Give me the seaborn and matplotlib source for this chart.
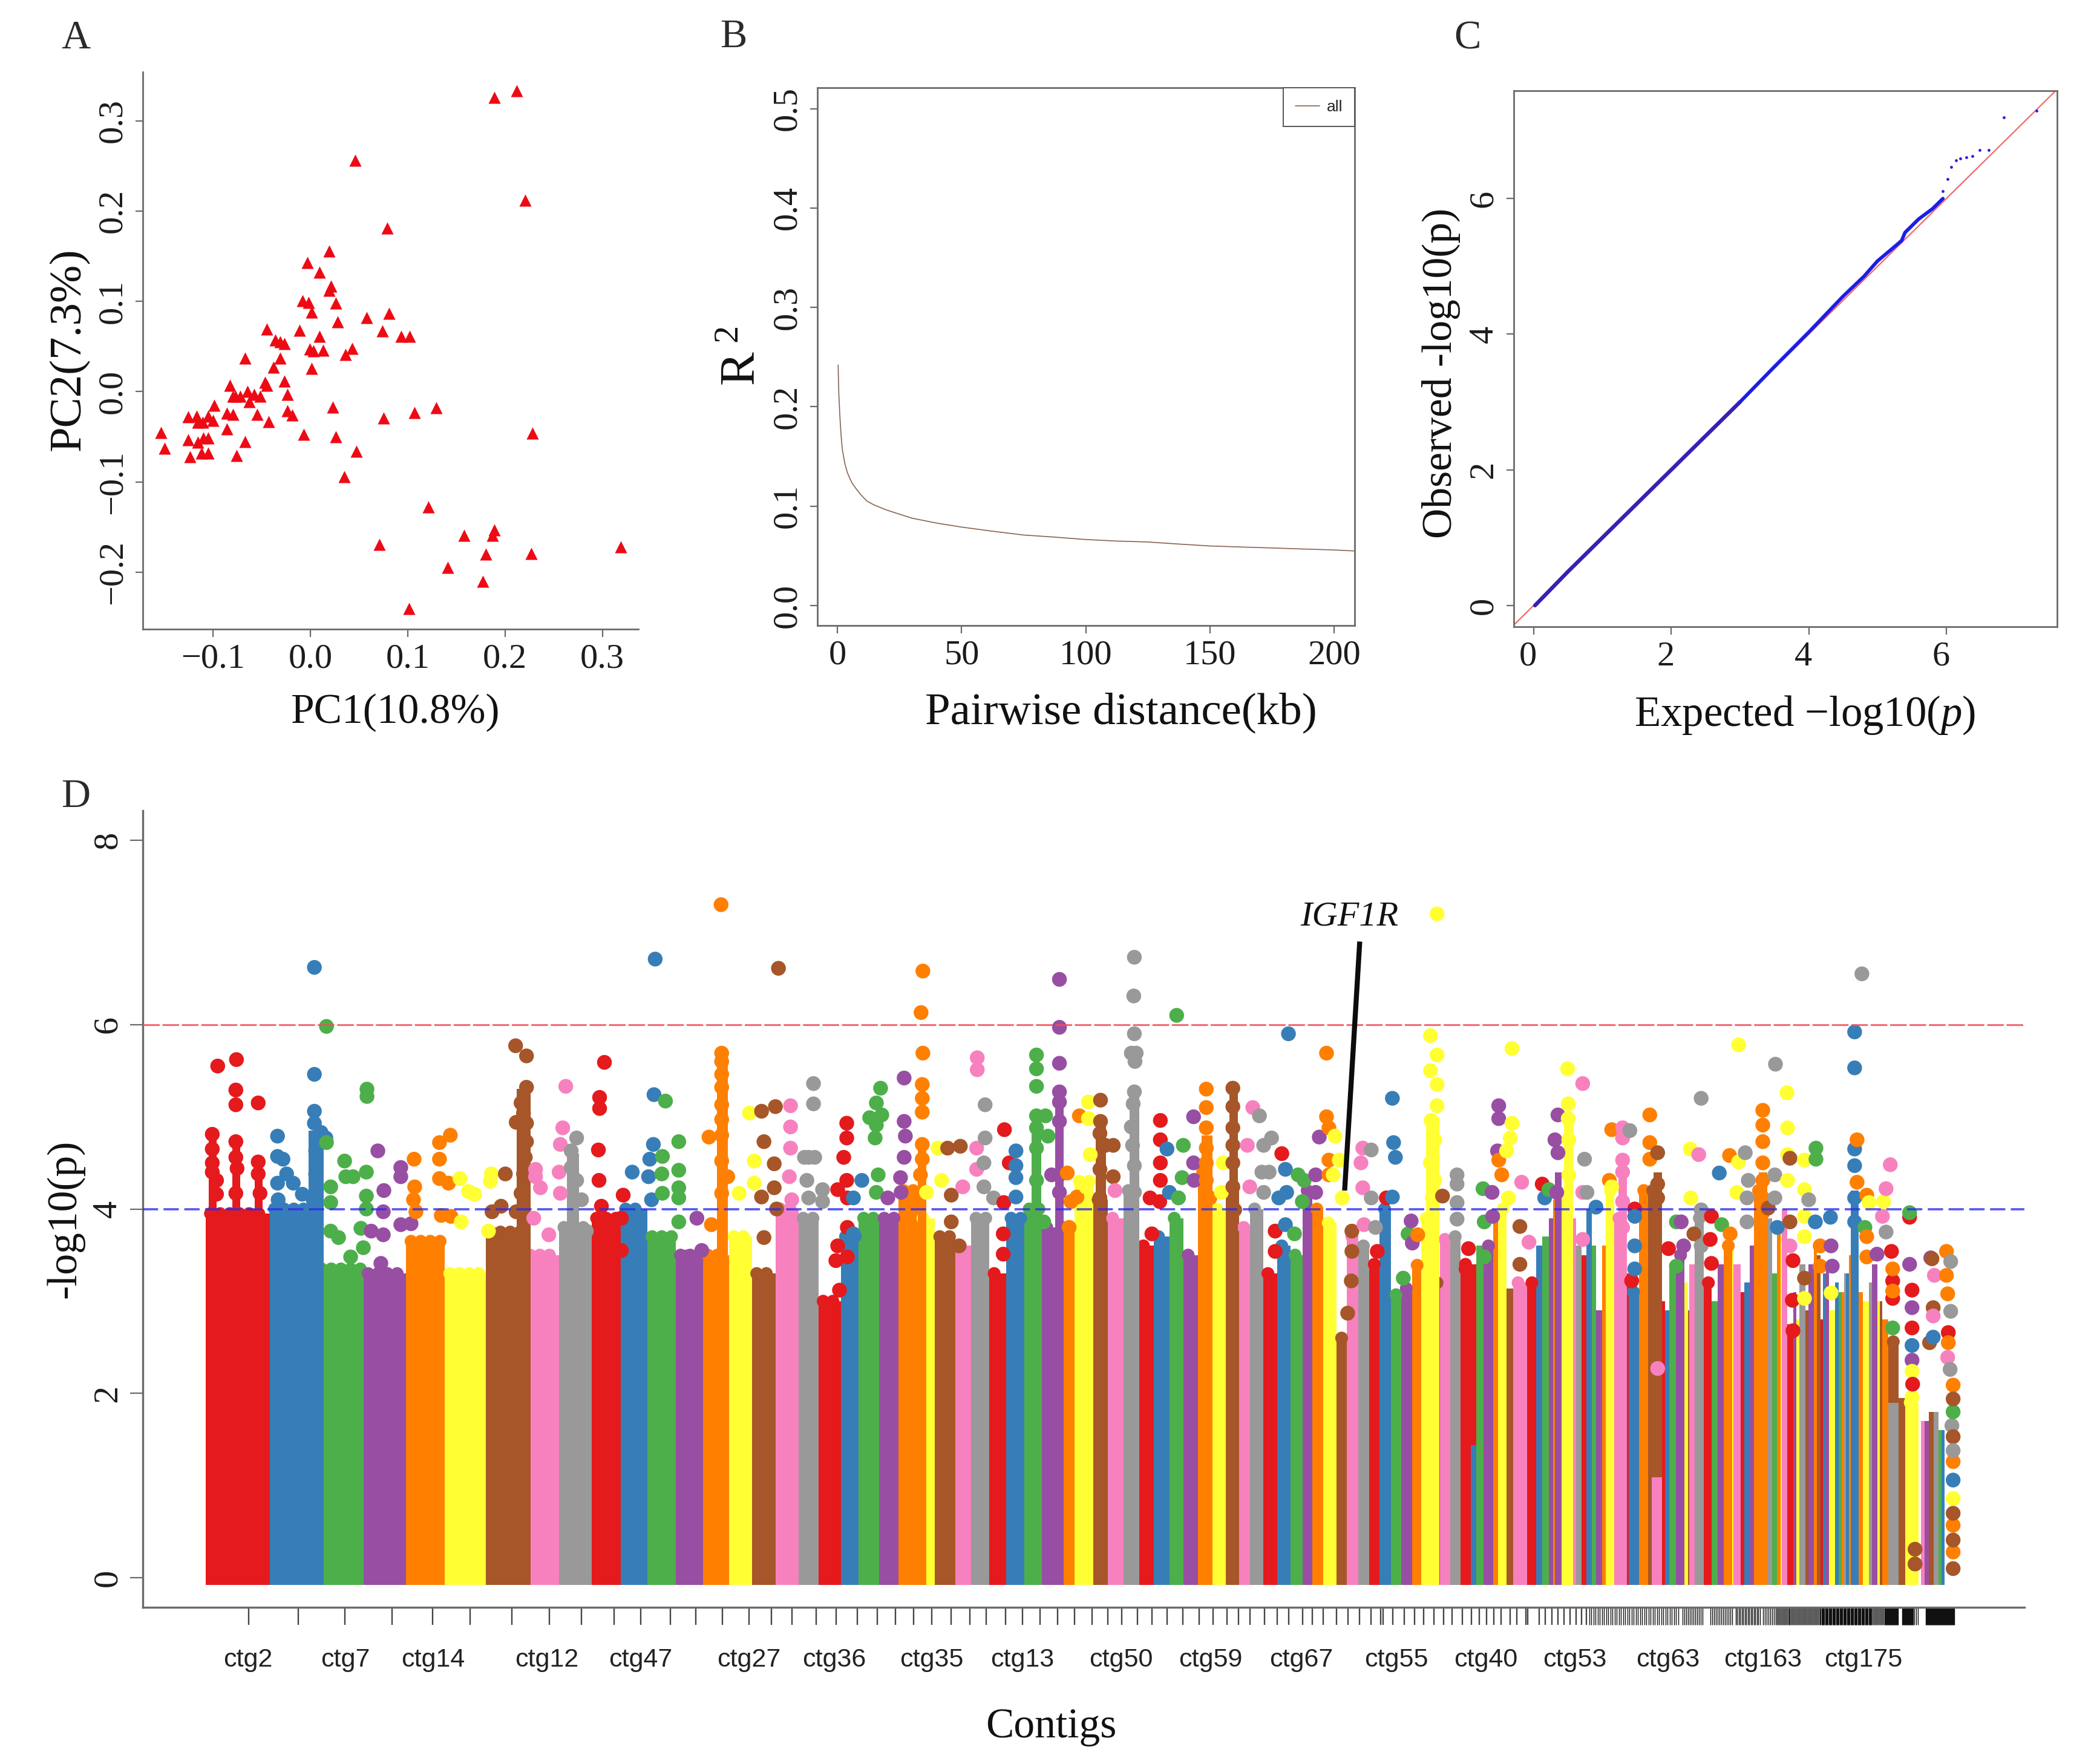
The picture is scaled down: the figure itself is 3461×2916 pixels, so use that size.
import numpy as np, pandas as pd
import matplotlib
matplotlib.use('Agg')
import matplotlib.pyplot as plt
from matplotlib.transforms import blended_transform_factory, ScaledTranslation
import seaborn as sns

sns.set_theme(style='white')
plt.rcParams['font.family'] = ['Liberation Serif', 'DejaVu Serif']
plt.rcParams['mathtext.fontset'] = 'custom'
plt.rcParams['mathtext.rm'] = 'Liberation Serif'
plt.rcParams['mathtext.it'] = 'Liberation Serif:italic'

W, H = 3462, 2916
SPINE = '#6a6a6a'
TXT = '#1c1c1c'

# ---------- Panel A ----------
pc1 = [.189,.212,.046,.221,.079,.019,-.003,.009,.021,.019,.026,-.008,-.002,.001,.028,.058,.081,.074,-.011,.009,
       .093,.102,-.045,-.036,-.031,-.027,-.001,.003,.013,.043,.036,-.031,-.067,-.038,.001,-.027,-.047,-.045,-.083,-.024,
       -.080,-.077,-.072,-.065,-.058,-.052,-.063,-.099,-.086,-.080,-.055,-.024,-.019,.023,.129,.107,.075,-.126,-.117,-.116,
       -.111,-.105,-.100,-.043,-.086,-.154,-.007,.228,-.150,-.126,-.116,-.110,-.105,-.067,.026,-.124,-.112,-.105,-.076,.047,
       .035,.121,.189,.187,.158,.071,.319,.180,.227,.141,.177,.101]
pc2 = [.326,.333,.256,.212,.181,.156,.143,.132,.117,.112,.098,.101,.099,.088,.077,.082,.087,.067,.068,.061,
       .061,.061,.069,.057,.055,.053,.047,.045,.046,.048,.041,.037,.037,.027,.026,.012,.010,.007,.007,-.003,
       -.005,-.005,-.005,0,-.003,-.005,-.011,-.015,-.024,-.025,-.025,-.021,-.026,-.017,-.018,-.023,-.029,-.028,-.027,-.034,
       -.034,-.027,-.032,-.033,-.041,-.045,-.047,-.046,-.063,-.053,-.056,-.051,-.051,-.055,-.050,-.072,-.068,-.068,-.071,-.066,
       -.094,-.128,-.153,-.159,-.159,-.169,-.172,-.180,-.179,-.195,-.210,-.240]

# ---------- Panel B ----------
ld_dist = [0.3,0.6,1,1.5,2,3,4,5,6,8,10,12,15,20,25,30,40,50,62,75,87,100,112,125,137,150,162,175,187,200,208]
ld_r2 = [.242,.212,.191,.171,.157,.143,.134,.128,.123,.116,.110,.105,.101,.096,.092,.088,.083,.079,.075,.071,.069,.0665,.065,.064,.062,.060,.059,.058,.057,.056,.055]

# ---------- Panel C ----------
qq_low_exp = [0.02,.5,1,1.5,2,2.5,3.0]
qq_low_obs = [0.0,.5,1,1.5,2,2.5,3.0]
qq_exp = [3.0,3.5,4,4.5,4.8,5,5.2,5.35,5.4,5.6,5.8,5.95]
qq_obs = [3.0,3.52,4.03,4.56,4.85,5.08,5.25,5.38,5.5,5.7,5.85,6.0]
qq_tail_exp = [5.95,6.02,6.07,6.14,6.20,6.29,6.38,6.48,6.62,6.84,7.31]
qq_tail_obs = [6.11,6.29,6.47,6.56,6.59,6.61,6.63,6.72,6.72,7.20,7.30]

# ---------- Panel D: contig columns ----------
contig_end = [446,524,601,672,736,804,869,925,979,
    1027,1071,1118,1163,1206,1244,1283,1321,1354,
    1391,1421,1455,1487,1519,1547,1581,1607,1637,
    1665,1695,1724,1750,1778,1809,1833,1859,1884,
    1909,1935,1958,1982,2005,2028,2050,2068,2090,
    2113,2135,2155,2171,2190,2212,2229,2248,2266,
    2283,2302,2319,2337,2352,2370,2383,2400,2417,
    2443,2455,2471,2479,2493,2504,2527,
    2542,2552,2563,2570,2580,2592,2600,2608,2617,
    2625,2634,2641,2651,2657,2671,2685,
    2695,2712,2727,2750,2755,2762,2773,2787,2793,2795,2804,2819,
    2832,2842,2852,2866,2868,2880,
    2886,2895,2902,2916,2924,2932,2940,2946,2948,2957,
    2968,2973,2978,2988,2993,3002,3007,3013,
    3017,3022,3027,3037,3043,3048,3052,3055,3060,3065,3070,3075,3083,3093,3098,3107,3111,3115,
    3125,3142,3153,3175,3179,3185,3192,3200,3208,3213,3218]
contig_col = list('rbgpoynka' * 7 + 'rgpoynk' + 'rbgpoynka' + 'rbgpoyk' + 'rbonrbgpynka' + 'rgpoyk'
                  + 'rbpokagoyk' + 'rpyanpon' + 'rbpybgoaboynoyapyn' + 'onnywkpnagb')
contig_top = [3.95,4.0,3.35,3.3,3.65,3.3,3.75,3.5,3.8,
    3.9,4.0,3.7,3.5,3.5,3.7,3.3,4.0,3.9,
    3.0,3.7,3.9,3.9,4.2,3.9,3.7,3.6,3.9,
    3.3,3.9,4.0,3.8,3.8,4.3,4.1,3.9,4.2,
    3.6,3.7,3.9,3.5,4.4,4.0,4.2,3.8,4.0,
    3.3,3.6,3.5,4.2,4.0,3.85,2.6,3.7,3.6,
    3.4,4.0,3.07,3.14,3.39,3.9,3.2,3.67,3.7,
    3.4,3.6,3.6,4.0,4.0,3.14,3.2,
    3.2,3.6,3.7,3.9,4.1,4.2,3.7,3.9,3.6,
    3.5,4.0,3.6,2.9,3.6,4.2,3.9,
    3.3,3.1,4.2,4.2,3.0,2.9,3.4,3.5,3.2,2.9,3.4,3.9,
    3.2,3.0,3.4,3.6,3.7,3.4,
    3.1,3.2,3.6,4.2,3.8,3.9,3.3,3.8,3.8,4.0,
    2.75,3.1,2.8,3.4,2.9,3.4,3.6,3.5,
    2.8,3.3,3.4,2.9,3.2,3.1,3.1,3.3,3.3,3.5,3.0,3.3,3.1,3.0,3.2,3.4,3.0,3.0,
    2.8,2.56,1.95,1.9,0,1.7,1.7,1.8,1.8,1.6,1.6]
overlay_x0 = [2434,2733,3125]
overlay_x1 = [2443,2750,3142]
overlay_top = [1.44,1.09,1.9]
overlay_col = ['b','k','a']
# continuous stems of points that rise above the solid columns
stem_x0 = [345,384,421,510,855,938,1186,1519,1707,1746,1813,1869,1988,2034,2360,2588,2678,2736,2910,2573,3063]
stem_x1 = [358,397,434,535,878,958,1204,1533,1723,1760,1830,1885,2006,2048,2382,2603,2692,2750,2924,2584,3076]
stem_top = [4.75,4.7,4.45,4.85,5.3,4.6,5.65,4.7,5.0,5.1,5.0,5.3,4.8,5.3,5.0,5.0,4.6,4.4,4.4,4.4,4.2]
stem_col = ['r','r','r','b','n','a','o','o','g','p','n','a','o','n','y','y','k','n','o','p','b']

red_pts = [(360,5.55),(391,5.62),(390,5.29),(390,5.13),(427,5.15),(351,4.81),(351,4.65),(351,4.5),(351,4.4),(358,4.31),(358,4.16),
 (390,4.73),(390,4.56),(392,4.44),(427,4.51),(427,4.38),(430,4.17),(390,4.17),(358,3.9),
 (1000,5.59),(992,5.21),(992,5.09),(990,4.64),(991,4.31),(1031,4.15),(1028,3.9),(1028,3.55),(995,4.03),
 (1401,4.93),(1401,4.77),(1396,4.56),(1386,4.21),(1401,4.31),(1402,4.12),(1386,3.6),(1402,3.8),(1383,3.44),(1402,3.48),(1389,3.12),
 (1662,4.86),(1661,4.07),(1670,4.5),(1660,3.73),(1660,3.51),(1920,4.96),(1920,4.75),(1920,4.5),(1920,4.31),(1903,4.12),(1919,4.08),(1906,3.73),
 (2121,4.6),(2110,3.76),(2110,3.54),(2279,3.54),(2294,4.12),(2430,3.57),(2426,3.35),(2552,4.27),(2705,4.0),(2700,3.22),(2761,3.57),
 (2832,3.92),(2830,3.67),(2832,3.41),(2967,3.44),(2966,3.01),(2967,2.68),(3130,3.54),(3132,3.03),(3132,3.22),(3160,3.91),(3164,3.12),(3164,2.71),(3165,2.1),(3224,2.66)]
blue_pts = [(459,4.79),(459,4.57),(468,4.54),(459,4.28),(474,4.38),(485,4.28),(500,4.16),(520,6.62),(520,5.46),(520,5.06),(520,4.93),(531,4.83),(539,4.77),(522,4.63),(522,4.38),(518,4.1),(460,4.1),
 (1084,6.71),(1082,5.24),(1081,4.7),(1075,4.54),(1046,4.4),(1073,4.35),(1078,4.1),(1426,4.31),(1412,4.12),(1412,3.73),
 (1681,4.63),(1681,4.47),(1681,4.34),(1681,4.13),(1931,4.65),(1935,4.18),(2127,4.43),(2132,5.9),(2129,4.18),(2127,3.83),(2116,4.12),
 (2304,5.2),(2306,4.72),(2309,4.56),(2304,4.13),(2556,4.12),(2641,4.02),(2705,3.92),(2705,3.6),(2705,3.35),(2845,4.39),(2941,3.8),(3004,3.86),(3029,3.91),
 (3069,5.92),(3069,5.53),(3069,4.65),(3069,4.47),(3069,4.12),(3069,3.86),(3164,2.52),(3199,2.61),(3232,1.06)]
green_pts = [(540,5.98),(607,5.30),(607,5.22),(540,4.72),(570,4.52),(572,4.35),(584,4.35),(606,4.4),(547,4.24),(547,4.07),(606,4.14),(606,4.0),(547,3.76),(560,3.69),(597,3.79),(580,3.48),(601,3.58),
 (1101,5.17),(1123,4.73),(1096,4.57),(1123,4.42),(1095,4.38),(1123,4.23),(1123,4.12),(1096,4.17),(1123,3.86),
 (1457,5.31),(1450,5.15),(1439,4.99),(1459,5.02),(1450,4.91),(1448,4.77),(1453,4.37),(1450,4.18),(1440,3.86),
 (1715,5.67),(1715,5.52),(1715,5.33),(1715,5.01),(1730,5.01),(1715,4.88),(1734,4.79),(1715,4.66),(1715,4.31),(1727,3.86),
 (1947,6.1),(1958,4.69),(1956,4.34),(1950,4.12),(2148,4.37),(2158,4.31),(2155,4.08),(2142,3.73),(2322,3.25),(2330,3.73),
 (2454,4.22),(2456,3.86),(2456,3.48),(2563,4.21),(2774,3.86),(2774,3.38),(2849,3.83),(3005,4.66),(3005,4.54),(3086,3.8),(3132,2.71),(3160,3.96),(3232,1.8)]
purple_pts = [(625,4.63),(635,4.2),(663,4.45),(663,4.35),(634,3.97),(634,3.72),(614,3.76),(630,3.41),(663,3.83),(680,3.84),
 (1153,3.9),(1161,3.55),(1136,3.48),(1496,5.42),(1496,4.95),(1498,4.79),(1496,4.56),(1490,4.34),(1469,4.12),(1491,4.18),
 (1753,6.49),(1753,5.97),(1753,5.58),(1753,5.27),(1753,5.16),(1753,4.95),(1740,4.37),(1753,4.37),(1753,4.18),
 (1975,5.0),(1975,4.5),(1976,4.31),(2183,4.78),(2177,4.37),(2177,4.18),(2335,3.87),(2337,3.63),
 (2480,5.12),(2480,4.98),(2478,4.63),(2469,4.18),(2470,3.92),(2578,5.02),(2573,4.75),(2578,4.61),(2576,4.18),(2782,3.86),(2786,3.6),
 (3030,3.6),(3032,3.38),(3106,3.51),(3160,3.4),(3164,2.93),(3164,2.36),(3195,3.47)]
orange_pts = [(685,4.54),(727,4.72),(727,4.54),(745,4.8),(686,4.24),(727,4.33),(742,4.28),(684,4.1),(730,3.93),(746,3.92),(688,3.97),
 (1193,7.3),(1194,5.69),(1194,5.6),(1194,5.46),(1194,5.32),(1194,5.13),(1194,4.97),(1173,4.78),(1194,4.8),(1194,4.52),(1204,4.35),(1194,4.17),(1177,3.83),
 (1527,6.58),(1524,6.13),(1527,5.69),(1526,5.35),(1526,5.2),(1526,5.05),(1526,4.7),(1526,4.54),(1523,4.37),
 (1786,5.01),(1766,4.39),(1772,4.08),(1782,4.13),(1769,3.8),(1996,5.3),(1996,5.1),(1996,4.88),(1996,4.66),(1996,4.5),(1996,4.31),(2002,4.12),
 (2195,5.69),(2195,5.0),(2199,4.88),(2199,4.53),(2199,4.37),(2346,3.72),(2480,4.53),(2485,4.37),(2667,4.86),(2663,4.31),
 (2730,5.02),(2730,4.72),(2730,4.54),(2862,4.58),(2863,3.73),(2917,5.07),(2917,4.91),(2917,4.73),(2917,4.5),(2917,4.31),(2917,4.12),(2917,3.96),
 (3012,3.6),(3012,3.38),(3073,4.75),(3073,4.29),(3089,4.15),(3089,3.7),(3089,3.48),(3132,3.35),(3132,3.11),
 (3221,3.54),(3221,3.28),(3223,3.08),(3224,2.55),(3232,2.09),(3232,1.26),(3232,.57),(3232,.28)]
yellow_pts = [(761,4.33),(775,4.19),(785,4.16),(813,4.38),(811,4.3),(763,3.86),(808,3.76),(1240,5.04),(1248,4.52),(1223,4.17),(1248,4.28),
 (1552,4.66),(1558,4.31),(1533,4.18),(1801,5.16),(1801,4.98),(1804,4.59),(1797,4.24),(2024,4.5),(2021,4.18),
 (2209,4.79),(2216,4.53),(2206,4.37),(2221,4.12),(2378,7.2),(2367,5.88),(2378,5.67),(2367,5.5),(2378,5.35),(2378,5.12),(2368,4.96),(2374,4.75),(2367,4.5),(2374,4.31),(2370,4.12),
 (2502,5.74),(2502,4.93),(2499,4.77),(2493,4.63),(2496,4.12),(2594,5.52),(2595,5.14),(2595,4.98),(2596,4.75),(2596,4.37),(2667,4.24),(2797,4.65),(2798,4.12),
 (2877,4.51),(2877,5.78),(2874,4.18),(2957,5.26),(2958,4.88),(2958,4.59),(2958,4.31),(2986,4.53),(2986,4.21),(2986,3.92),(2986,3.7),(2986,3.03),(3030,3.09),(3093,4.07),(3117,4.08),
 (3164,2.24),(3164,1.96),(3232,.86)]
brown_pts = [(853,5.77),(871,5.66),(871,5.32),(862,5.15),(866,5.04),(854,4.94),(871,4.93),(871,4.73),(869,4.56),(866,4.38),(836,4.38),(814,3.97),(829,4.03),(862,4.17),(854,3.97),
 (1288,6.61),(1260,5.06),(1283,5.11),(1264,4.73),(1281,4.49),(1281,4.23),(1260,4.13),(1264,3.69),(1285,4.0),
 (1568,4.66),(1589,4.68),(1574,4.15),(1574,3.86),(1587,3.6),(1821,5.18),(1821,4.95),(1820,4.82),(1829,4.69),(1842,4.69),(1820,4.43),(1842,4.35),(1820,4.12),
 (2040,5.31),(2040,5.11),(2040,4.88),(2040,4.69),(2040,4.5),(2040,4.24),(2043,3.99),(2237,3.76),(2237,3.54),(2230,2.87),(2236,3.22),(2387,4.14),(2515,3.81),(2515,3.4),
 (2743,4.61),(2743,4.27),(2743,4.12),(2803,3.73),(2926,4.01),(2962,4.55),(2962,3.86),(2986,3.25),(3169,.31),(3169,.15),(3197,3.46),(3199,2.93),(3193,2.55),
 (3232,1.94),(3232,1.53),(3232,.7),(3232,.41),(3232,.1)]
pink_pts = [(936,5.33),(931,4.88),(927,4.7),(925,4.4),(927,4.17),(886,4.43),(886,4.35),(894,4.23),(883,3.9),(908,3.72),
 (1308,5.12),(1308,4.89),(1308,4.66),(1306,4.35),(1310,4.1),(1617,5.64),(1617,5.51),(1593,4.24),(1616,4.66),(1616,4.43),(1845,4.2),
 (2073,5.1),(2064,4.69),(2068,4.24),(2255,4.66),(2252,4.5),(2255,4.23),(2257,3.83),(2518,4.29),(2530,3.64),(2619,5.36),(2619,4.18),(2619,3.67),
 (2685,4.88),(2685,4.77),(2685,4.53),(2685,4.4),(2685,4.08),(2685,3.8),(2743,2.27),(2811,4.59),(2962,3.6),(3128,4.48),(3121,4.22),(3115,3.92),(3201,3.28),(3199,2.84),(3223,2.39)]
grey_pts = [(954,4.77),(945,4.63),(945,4.45),(954,4.31),(962,4.1),(970,3.76),(1346,5.36),(1346,5.14),(1338,4.56),(1331,4.56),(1348,4.56),(1335,4.31),(1361,4.21),(1361,4.08),(1338,4.12),
 (1630,5.13),(1630,4.77),(1628,4.5),(1628,4.24),(1644,4.12),(1877,6.73),(1876,6.31),(1877,5.9),(1872,5.69),(1880,5.69),(1878,5.6),(1877,5.27),(1875,5.14),(1872,4.89),(1874,4.69),(1877,4.47),(1877,4.18),
 (2084,5.01),(2091,4.69),(2104,4.77),(2088,4.4),(2100,4.4),(2091,4.18),(2269,4.64),(2269,4.12),(2276,3.8),(2411,4.37),(2411,4.27),(2411,4.07),(2411,3.89),(2622,4.54),(2626,4.18),(2697,4.85),
 (2815,5.2),(2815,3.99),(2815,3.6),(2888,4.61),(2893,4.31),(2891,4.12),(2891,3.86),(2938,5.57),(2937,4.37),(2937,4.12),(2993,4.1),(3081,6.55),(3121,3.75),(3228,3.43),(3228,2.89),(3227,2.26),(3230,1.65),(3232,1.38)]

tick_pos = [411,493,570,649,716,778,847,909,962,1016,1060,1109,1151,1195,1239,1276,
    1310,1350,1383,1419,1452,1482,1512,1542,1574,1605,1632,1664,1692,1721,1750,1778,1807,1833,1856,1882,1906,1931,1957,1984,
    2007,2030,2049,2068,2092,2113,2132,2155,2171,2190,2212,2231,2250,2269,2285,
    2289,2305,2324,2341,2356,2373,2389,2403,2420,2435,2448,2460,2472,2484,2499,2510,2525,2528,2547,2557,2568,2578,2588,2598,2608,2617,2625]
tick_band_start = [2630,2784,2830,2872,2917,2940,3013,3097,3120,3148,3168,3187]
tick_band_end = [2780,2819,2867,2913,2940,3013,3097,3120,3142,3167,3175,3235]
tick_band_step = [3.5,3,3,2.5,3,2,1.2,2,1,1,3,1]
label_pos = [410,571,716,905,1060,1239,1380,1541,1692,1855,2003,2153,2311,2459,2606,2760,2917,3083]
label_txt = ['ctg2','ctg7','ctg14','ctg12','ctg47','ctg27','ctg36','ctg35','ctg13','ctg50','ctg59','ctg67','ctg55','ctg40','ctg53','ctg63','ctg163','ctg175']

# ---------- figure ----------
fig = plt.figure(figsize=(W/100, H/100), dpi=100, facecolor='white')

def axes_px(l, t, r, b):
    return fig.add_axes([l/W, 1-b/H, (r-l)/W, (b-t)/H])

def fig_text(x, y, s, **kw):
    fig.text(x/W, 1-y/H, s, ha=kw.pop('ha', 'center'), va=kw.pop('va', 'center'), **kw)

def style(ax, spines, lw=2.0):
    for k, sp in ax.spines.items():
        sp.set_visible(k in spines)
        sp.set_color(SPINE)
        sp.set_linewidth(lw)
    ax.set_xlabel(''); ax.set_ylabel('')
    ax.tick_params(axis='both', length=9, width=1.6, color=SPINE, labelsize=42, labelcolor=TXT, pad=8,
                   left=True, bottom=True)
    ax.tick_params(axis='y', labelrotation=90)
    for t in ax.get_yticklabels():
        t.set_va('center')

# A
axA = axes_px(236, 119, 1055, 1040)
sns.scatterplot(x=pc1, y=pc2, marker='^', color='#ee0a14', s=210, linewidth=0, ax=axA)
axA.set_xlim(-.1724, .337); axA.set_ylim(-.263, .354)
axA.set_xticks([-.1, 0, .1, .2, .3]); axA.set_xticklabels(['\u22120.1', '0.0', '0.1', '0.2', '0.3'])
axA.set_yticks([-.2, -.1, 0, .1, .2, .3]); axA.set_yticklabels(['\u22120.2', '\u22120.1', '0.0', '0.1', '0.2', '0.3'])
style(axA, ['left', 'bottom'])

# B
axB = axes_px(1351, 145, 2239, 1034)
sns.lineplot(x=ld_dist, y=ld_r2, color='#8a6450', lw=1.2, label='all', ax=axB)
axB.set_xlim(-8.04, 208.2); axB.set_ylim(-.02, .521)
axB.set_xticks([0, 50, 100, 150, 200]); axB.set_yticks([0, .1, .2, .3, .4, .5])
axB.set_yticklabels(['0.0', '0.1', '0.2', '0.3', '0.4', '0.5'])
style(axB, ['left', 'bottom', 'top', 'right'])
leg = axB.legend(loc='upper right', borderaxespad=0, fancybox=False, framealpha=1, edgecolor='#555555',
                 prop={'family': 'Liberation Sans', 'size': 19}, handlelength=1.5, borderpad=.75, handletextpad=.45)
leg.get_frame().set_linewidth(1.4)
leg.get_lines()[0].set_linewidth(1.2)

# C
axC = axes_px(2502, 150, 3400, 1036)
axC.plot([-.3, 7.7], [-.3, 7.7], color='#f0696a', lw=1.6, zorder=1)
sns.lineplot(x=qq_low_exp, y=qq_low_obs, color='#3a1fb4', lw=4.6, ax=axC, zorder=2, estimator=None, sort=False)
sns.lineplot(x=qq_exp, y=qq_obs, color='#1c1ee6', lw=4.2, ax=axC, zorder=2, estimator=None, sort=False)
sns.scatterplot(x=qq_tail_exp, y=qq_tail_obs, color='#2a1ee0', s=12, linewidth=0, ax=axC, zorder=3)
axC.set_xlim(-.288, 7.61); axC.set_ylim(-.313, 7.59)
axC.set_xticks([0, 2, 4, 6]); axC.set_yticks([0, 2, 4, 6])
style(axC, ['left', 'bottom', 'top', 'right'])
for t in axC.get_xticklabels():
    t.set_transform(t.get_transform() + ScaledTranslation(-9/100, 0, fig.dpi_scale_trans))

# D
axD = axes_px(236, 1340, 3346, 2657)
cmap = dict(zip('rbgpoynka', sns.color_palette('Set1', 9)))
cmap['w'] = (1, 1, 1)
assert len(contig_end) == len(contig_top) == len(contig_col), (len(contig_end), len(contig_top), len(contig_col))
ends = np.array(contig_end, float)
starts = np.r_[340.0, ends[:-1]]
tops = np.array(contig_top)
base = -0.08
DOT = 310
axD.bar(starts, tops - base, width=ends - starts, bottom=base, align='edge',
        color=[cmap[c] for c in contig_col], linewidth=0, zorder=1)
axD.bar(overlay_x0, np.array(overlay_top) - base, width=np.array(overlay_x1) - np.array(overlay_x0), bottom=base,
        align='edge', color=[cmap[c] for c in overlay_col], linewidth=0, zorder=1.5)
axD.bar(stem_x0, np.array(stem_top) - base, width=np.array(stem_x1) - np.array(stem_x0), bottom=base,
        align='edge', color=[cmap[c] for c in stem_col], linewidth=0, zorder=1.4)
# rounded top edge of each solid column, taken from the column tops above
edge = []
for a, b, t, c in zip(starts, ends, tops, contig_col):
    if b - a >= 12 and c != 'w':
        edge += [(x, t, c) for x in np.arange(a + 8, b - 4, 16)]
edge_df = pd.DataFrame(edge, columns=['pos', 'logp', 'col'])
sns.scatterplot(data=edge_df, x='pos', y='logp', hue='col', palette={k: cmap[k] for k in 'rbgpoynka'},
                s=DOT * .75, linewidth=0, legend=False, ax=axD, zorder=1.2)
rows = []
for key, pts in zip('rbgpoynka', [red_pts, blue_pts, green_pts, purple_pts, orange_pts, yellow_pts, brown_pts, pink_pts, grey_pts]):
    rows += [(x, y, key) for x, y in pts]
pts_df = pd.DataFrame(rows, columns=['pos', 'logp', 'col']).sort_values('pos', kind='stable')
sns.scatterplot(data=pts_df, x='pos', y='logp', hue='col', palette={k: cmap[k] for k in 'rbgpoynka'},
                s=DOT, linewidth=0, legend=False, ax=axD, zorder=2)
axD.axhline(6, color='#f4505a', lw=2.2, ls=(0, (9, 1.5)), zorder=3, alpha=.85)
axD.axhline(4, color='#2a2af0', lw=2.6, ls=(0, (7, 2.5)), zorder=3, alpha=.8)
axD.set_xlim(236, 3350); axD.set_ylim(-.32, 8.32)
axD.set_yticks([0, 2, 4, 6, 8])
axD.set_xticks(label_pos); axD.set_xticklabels(label_txt)
style(axD, ['left', 'bottom'], lw=2.4)
axD.set_xlabel('')
axD.tick_params(axis='y', length=15, width=1.6)
axD.tick_params(axis='x', length=0, pad=48, labelsize=31, labelcolor='#222222')
for t in axD.get_xticklabels():
    t.set_family('Liberation Sans')
tr = blended_transform_factory(axD.transData, axD.transAxes)
axD.vlines(tick_pos, -.022, 0, transform=tr, color='#444444', lw=1.7, clip_on=False)
dense = np.concatenate([np.arange(a, b, s) for a, b, s in zip(tick_band_start, tick_band_end, tick_band_step)])
axD.vlines(dense, -.022, 0, transform=tr, color='#111111', lw=1.0, clip_on=False)
axD.text(2233, 7.17, 'IGF1R', style='italic', fontsize=42, color='#111111', ha='center', va='center', zorder=5)
axD.plot([2250, 2225], [6.9, 4.2], color='#0c0c0c', lw=6, zorder=5, solid_capstyle='butt')

# texts
for x, y, s in [(125, 64, 'A'), (1212, 62, 'B'), (2426, 64, 'C'), (125, 1318, 'D')]:
    fig_text(x, y, s, fontsize=48, color='#2a2a2a')
fig_text(654, 1178, 'PC1(10.8%)', fontsize=50, color='#111111')
fig_text(114, 577, 'PC2(7.3%)', fontsize=54, color='#111111', rotation=90)
fig_text(1853, 1178, 'Pairwise distance(kb)', fontsize=54, color='#111111')
fig_text(1228, 589, 'R$^{\\ 2}$', fontsize=60, color='#111111', rotation=90)
fig_text(2983, 1182, 'Expected \u2212log10($\\mathit{p}$)', fontsize=51, color='#111111')
fig_text(2382, 617, 'Observed -log10(p)', fontsize=50, color='#111111', rotation=90)
fig_text(108, 2015, '-log10(p)', fontsize=50, color='#111111', rotation=90)
fig_text(1737, 2855, 'Contigs', fontsize=50, color='#111111')

fig.savefig('out.png', dpi=100, facecolor='white')
